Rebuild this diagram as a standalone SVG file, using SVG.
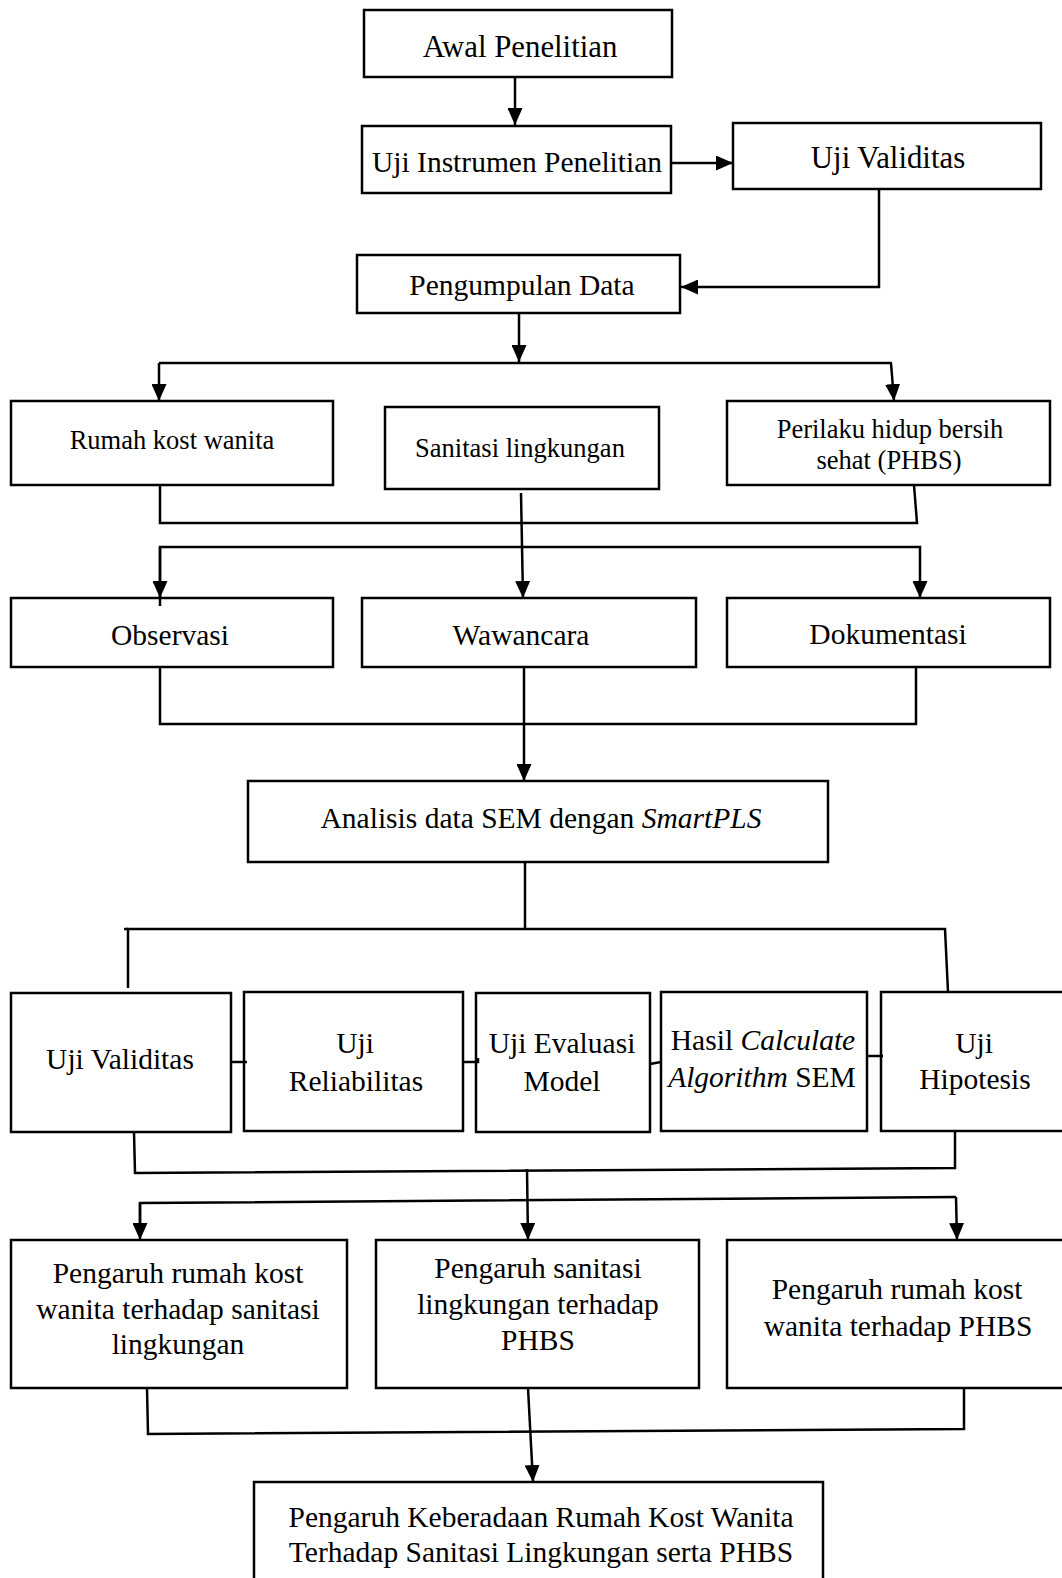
<svg xmlns="http://www.w3.org/2000/svg" width="1062" height="1578" viewBox="0 0 1062 1578">
<style>
rect{fill:#fff;stroke:#000;stroke-width:2.5}
text{font-family:"Liberation Serif","Times New Roman",serif;font-size:29.5px;fill:#000;text-anchor:middle}
text.s{font-size:26.5px}
text.l{font-size:30.8px}
.c polyline,.c line{fill:none;stroke:#000;stroke-width:2.5}
.a{marker-end:url(#ah)}
</style>
<defs>
<marker id="ah" markerUnits="userSpaceOnUse" markerWidth="17" markerHeight="15" viewBox="0 0 17 15" refX="17" refY="7.5" orient="auto">
<path d="M0,0 L17,7.5 L0,15 Z" fill="#000"/>
</marker>
</defs>
<rect x="0" y="0" width="1062" height="1578" style="stroke:none"/>
<g id="awal"><rect x="364" y="10" width="308" height="67"/><text class="l" x="520" y="57">Awal Penelitian</text></g>
<g id="instrumen"><rect x="362" y="126" width="309" height="67"/><text x="517" y="172">Uji Instrumen Penelitian</text></g>
<g id="validitas1"><rect x="733" y="123" width="308" height="66"/><text class="l" x="888" y="168">Uji Validitas</text></g>
<g id="pengumpulan"><rect x="357" y="255" width="323" height="58"/><text x="522" y="295">Pengumpulan Data</text></g>
<g id="rumah"><rect x="11" y="401" width="322" height="84"/><text class="s" x="172" y="449">Rumah kost wanita</text></g>
<g id="sanitasi"><rect x="385" y="407" width="274" height="82"/><text class="s" x="520" y="457">Sanitasi lingkungan</text></g>
<g id="perilaku"><rect x="727" y="401" width="323" height="84"/><text class="s" x="890" y="438">Perilaku hidup bersih</text><text class="s" x="889" y="469">sehat (PHBS)</text></g>
<g id="observasi"><rect x="11" y="598" width="322" height="69"/><text x="170" y="645">Observasi</text></g>
<g id="wawancara"><rect x="362" y="598" width="334" height="69"/><text x="521" y="645">Wawancara</text></g>
<g id="dokumentasi"><rect x="727" y="598" width="323" height="69"/><text x="888" y="644">Dokumentasi</text></g>
<g id="analisis"><rect x="248" y="781" width="580" height="81"/><text x="541" y="828">Analisis data SEM dengan <tspan font-style="italic">SmartPLS</tspan></text></g>
<g id="validitas2"><rect x="11" y="993" width="220" height="139"/><text x="120" y="1069">Uji Validitas</text></g>
<g id="reliabilitas"><rect x="244" y="992" width="219" height="139"/><text x="355" y="1053">Uji</text><text x="356" y="1091">Reliabilitas</text></g>
<g id="evaluasi"><rect x="476" y="993" width="174" height="139"/><text x="562" y="1053">Uji Evaluasi</text><text x="562" y="1091">Model</text></g>
<g id="hasil"><rect x="661" y="992" width="206" height="139"/><text x="763" y="1050">Hasil <tspan font-style="italic">Calculate</tspan></text><text x="762" y="1087"><tspan font-style="italic">Algorithm</tspan> SEM</text></g>
<g id="hipotesis"><rect x="881" y="992" width="190" height="139"/><text x="974" y="1053">Uji</text><text x="975" y="1089">Hipotesis</text></g>
<g id="p1"><rect x="11" y="1240" width="336" height="148"/><text x="178" y="1283">Pengaruh rumah kost</text><text x="178" y="1319">wanita terhadap sanitasi</text><text x="178" y="1354">lingkungan</text></g>
<g id="p2"><rect x="376" y="1240" width="323" height="148"/><text x="538" y="1278">Pengaruh sanitasi</text><text x="538" y="1314">lingkungan terhadap</text><text x="538" y="1350">PHBS</text></g>
<g id="p3"><rect x="727" y="1240" width="345" height="148"/><text x="897" y="1299">Pengaruh rumah kost</text><text x="898" y="1336">wanita terhadap PHBS</text></g>
<g id="final"><rect x="254" y="1482" width="569" height="110"/><text x="541" y="1527">Pengaruh Keberadaan Rumah Kost Wanita</text><text x="541" y="1562">Terhadap Sanitasi Lingkungan serta PHBS</text></g>
<g class="c" id="connectors">
<line class="a" x1="515" y1="77" x2="515" y2="125"/>
<line class="a" x1="671" y1="163" x2="733" y2="163"/>
<polyline class="a" points="879,189 879,287 681,287"/>
<line class="a" x1="519" y1="313" x2="519" y2="362"/>
<polyline points="159,363 892,363"/>
<line class="a" x1="159" y1="363" x2="159" y2="401"/>
<line class="a" x1="891" y1="363" x2="894" y2="401"/>
<polyline points="160,485 160,523 917,523 914,485"/>
<line class="a" x1="521" y1="493" x2="523" y2="598"/>
<polyline class="a" points="160,606 160,547 920,547 920,598"/>
<line class="a" x1="160" y1="547" x2="160" y2="598"/>
<polyline points="160,667 160,724 916,724 916,667"/>
<line class="a" x1="524" y1="667" x2="524" y2="781"/>
<line x1="525" y1="862" x2="525" y2="929"/>
<polyline points="128,988 128,929 945,929 948,992"/>
<line x1="124" y1="929" x2="128" y2="929"/>
<line x1="231" y1="1062" x2="247" y2="1062"/>
<polyline points="463,1062 478,1062 478,1058"/>
<line x1="650" y1="1064" x2="661" y2="1062"/>
<line x1="867" y1="1056" x2="883" y2="1056"/>
<polyline points="134,1132 135,1173 955,1168 955,1132"/>
<line class="a" x1="527" y1="1169" x2="528" y2="1240"/>
<polyline points="140,1225 140,1203 956,1197"/>
<line class="a" x1="140" y1="1203" x2="140" y2="1240"/>
<line class="a" x1="956" y1="1197" x2="957" y2="1240"/>
<polyline points="147,1388 148,1434 964,1429 964,1388"/>
<line class="a" x1="528" y1="1388" x2="533" y2="1482"/>
</g>
</svg>
